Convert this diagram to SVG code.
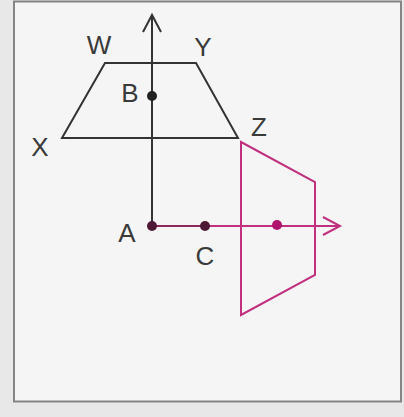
<svg xmlns="http://www.w3.org/2000/svg" width="404" height="417" viewBox="0 0 404 417">
<defs>
<style>
.lbl{font-family:"Liberation Sans",Arial,sans-serif;font-size:26px;fill:#3a3a3a;text-anchor:middle;dominant-baseline:central}
.blk{fill:none;stroke:#333;stroke-width:2}
.mag{fill:none;stroke:#c0307f;stroke-width:2}
</style>
<marker id="ahB" markerWidth="22" markerHeight="22" refX="19" refY="10" orient="auto" markerUnits="userSpaceOnUse">
<path d="M2,1 L19,10 L2,19" fill="none" stroke="#333" stroke-width="2"/>
</marker>
<marker id="ahM" markerWidth="22" markerHeight="22" refX="19" refY="10" orient="auto" markerUnits="userSpaceOnUse">
<path d="M2,1 L19,10 L2,19" fill="none" stroke="#c0307f" stroke-width="2"/>
</marker>
</defs>
<rect x="0" y="0" width="404" height="417" fill="#e8e8e8"/>
<rect x="14" y="1.5" width="387" height="400" fill="#f5f5f5" stroke="#858585" stroke-width="2"/>
<g id="connectors">
<line x1="152" y1="226" x2="152" y2="15" class="blk" marker-end="url(#ahB)"/>
<line x1="152" y1="226" x2="340" y2="226" class="mag" marker-end="url(#ahM)"/>
<line x1="152" y1="226" x2="205" y2="226" stroke="#8a2a5c" stroke-width="2"/>
</g>
<g id="WXYZ">
<polygon points="105,63 196,63 238,138 62,138" class="blk"/>
</g>
<g id="image">
<polygon points="241,142 315,182 315,275 241,315" class="mag"/>
</g>
<g id="A"><circle cx="152" cy="226" r="5" fill="#4e1934"/><text x="127" y="233" class="lbl">A</text></g>
<g id="B"><circle cx="152" cy="96" r="5" fill="#222"/><text x="130" y="93" class="lbl">B</text></g>
<g id="C"><circle cx="205" cy="226" r="5" fill="#4e1934"/><text x="205" y="256" class="lbl">C</text></g>
<g id="P"><circle cx="277" cy="225" r="5" fill="#b0156e"/></g>
<g id="W"><text x="99" y="45" class="lbl">W</text></g>
<g id="X"><text x="40" y="147" class="lbl">X</text></g>
<g id="Y"><text x="203" y="47" class="lbl">Y</text></g>
<g id="Z"><text x="259" y="127" class="lbl">Z</text></g>
</svg>
